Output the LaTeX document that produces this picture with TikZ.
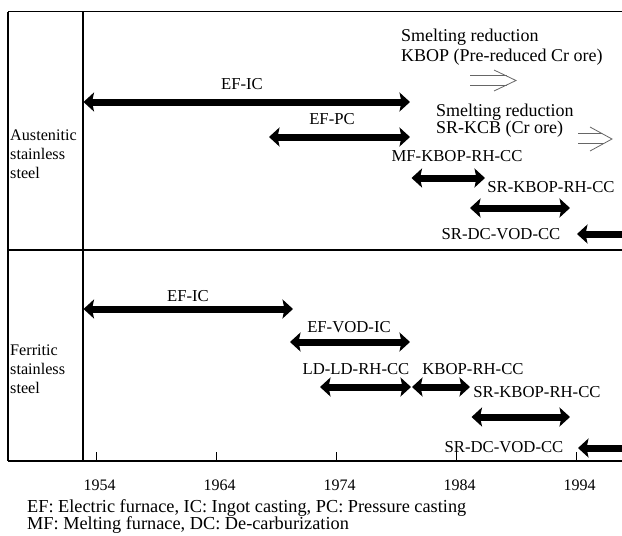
\documentclass[tikz,border=0pt]{standalone}
\usepackage{fontspec}
\setmainfont{Liberation Serif}
\usetikzlibrary{arrows.meta}
\begin{document}
\begin{tikzpicture}[x=1pt,y=-1pt,
  thinframe/.style={line width=1.1pt},
  heavyframe/.style={line width=2pt},
  tickmark/.style={line width=0.8pt},
  bar/.style={line width=7pt,
    {Stealth[length=10.5pt,width=19pt,inset=2pt]}-{Stealth[length=10.5pt,width=19pt,inset=2pt]}},
  halfbar/.style={line width=7pt,-{Stealth[length=10.5pt,width=19pt,inset=2pt]}},
  hollow/.style={line width=0.8pt,draw=black!60},
  lbl/.style={font=\fontsize{16.7}{19}\selectfont,inner sep=0pt,text height=11pt,text depth=3.5pt},
  side/.style={font=\fontsize{16.2}{19}\selectfont,inner sep=0pt,align=left,anchor=west},
  smelt/.style={font=\fontsize{18}{20}\selectfont,inner sep=0pt,anchor=west,text height=12pt,text depth=4pt},
  yr/.style={font=\fontsize{16}{19}\selectfont,inner sep=0pt},
  legend/.style={font=\fontsize{18.3}{17}\selectfont,inner sep=0pt,anchor=west,text height=12pt,text depth=4pt}
]
\useasboundingbox (0,0) rectangle (622,536);

% frame
\coordinate (tl) at (8,11.7);
\coordinate (tr) at (622,11.7);
\coordinate (bl) at (8,460.5);
\coordinate (br) at (622,460.5);
\coordinate (ct) at (82.5,11.7);
\coordinate (cb) at (82.5,460.5);
\coordinate (dl) at (8,249.5);
\coordinate (dr) at (622,249.5);
\draw[thinframe] (tl) -- (tr);
\draw[thinframe] (tl) -- (bl);
\draw[heavyframe] (ct) -- (cb);
\draw[heavyframe] (dl) -- (dr);
\draw[heavyframe] (bl) -- (br);

% ticks and years
\foreach \i/\yy in {0/1954,1/1964,2/1974,3/1984,4/1994}{
  \coordinate (t\i) at ({96.7+120*\i},460.5);
  \coordinate (u\i) at ({96.7+120*\i},452);
  \draw[tickmark] (t\i) -- (u\i);
  \node[yr] (y\i) at ({99.7+120*\i},485) {\yy};
}

% side labels
\node[side] (aus) at (10,154) {Austenitic\\stainless\\steel};
\node[side] (fer) at (10,369) {Ferritic\\stainless\\steel};

% austenitic bars
\coordinate (a1s) at (83.5,102); \coordinate (a1e) at (410,102);
\draw[bar] (a1s) -- (a1e);
\node[lbl] (l1) at (242,86) {EF-IC};
\coordinate (a2s) at (269,137); \coordinate (a2e) at (410,137);
\draw[bar] (a2s) -- (a2e);
\node[lbl] (l2) at (332,121) {EF-PC};
\coordinate (a3s) at (411.5,178); \coordinate (a3e) at (485,178);
\draw[bar] (a3s) -- (a3e);
\node[lbl] (l3) at (457,158) {MF-KBOP-RH-CC};
\coordinate (a4s) at (470,208); \coordinate (a4e) at (570,208);
\draw[bar] (a4s) -- (a4e);
\node[lbl] (l4) at (551,189) {SR-KBOP-RH-CC};
\coordinate (a5s) at (630,234); \coordinate (a5e) at (577,234);
\draw[halfbar] (a5s) -- (a5e);
\node[lbl] (l5) at (501,236) {SR-DC-VOD-CC};

% smelting reduction notes
\node[smelt] (s1) at (401,37) {Smelting reduction};
\node[smelt] (s2) at (401,57) {KBOP (Pre-reduced Cr ore)};
\node[smelt] (s3) at (436,112) {Smelting reduction};
\node[smelt] (s4) at (436,129) {SR-KCB (Cr ore)};

% hollow arrows
\draw[hollow] (470,75.5) -- (506.6,75.5);
\draw[hollow] (470,85) -- (506.6,85);
\draw[hollow] (494,70) -- (516,80.5) -- (494,91);
\draw[hollow] (578,133.5) -- (601.9,133.5);
\draw[hollow] (578,143.5) -- (603.7,143.5);
\draw[hollow] (590,127) -- (612,139) -- (590,151);

% ferritic bars
\coordinate (b1s) at (83.5,309); \coordinate (b1e) at (293,309);
\draw[bar] (b1s) -- (b1e);
\node[lbl] (m1) at (188,298) {EF-IC};
\coordinate (b2s) at (290,342); \coordinate (b2e) at (410,342);
\draw[bar] (b2s) -- (b2e);
\node[lbl] (m2) at (349,329) {EF-VOD-IC};
\coordinate (b3s) at (320,387); \coordinate (b3e) at (411,387);
\draw[bar] (b3s) -- (b3e);
\node[lbl] (m3) at (356,371) {LD-LD-RH-CC};
\coordinate (b4s) at (412,387); \coordinate (b4e) at (470,387);
\draw[bar] (b4s) -- (b4e);
\node[lbl] (m4) at (473,371) {KBOP-RH-CC};
\coordinate (b5s) at (471.5,417); \coordinate (b5e) at (570,417);
\draw[bar] (b5s) -- (b5e);
\node[lbl] (m5) at (537,394) {SR-KBOP-RH-CC};
\coordinate (b6s) at (630,448); \coordinate (b6e) at (578,448);
\draw[halfbar] (b6s) -- (b6e);
\node[lbl] (m6) at (504,449) {SR-DC-VOD-CC};

% legend
\node[legend] (g1) at (27,508) {EF: Electric furnace, IC: Ingot casting, PC: Pressure casting};
\node[legend] (g2) at (27,525) {MF: Melting furnace, DC: De-carburization};
\end{tikzpicture}
\end{document}
